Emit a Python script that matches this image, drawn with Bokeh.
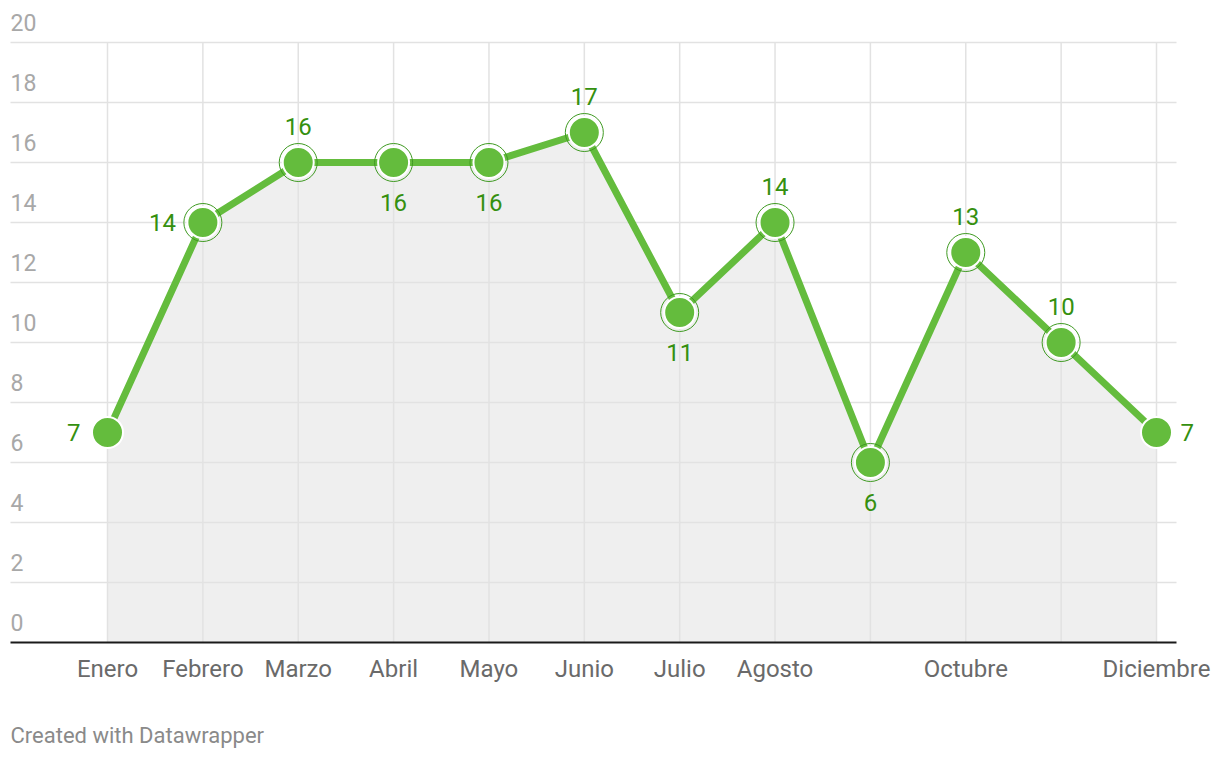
from bokeh.plotting import figure
from bokeh.models import Range1d, ColumnDataSource, Label
from bokeh.core.properties import value
from bokeh.embed import file_html
from bokeh.resources import INLINE

months = ["Enero", "Febrero", "Marzo", "Abril", "Mayo", "Junio", "Julio",
          "Agosto", "Septiembre", "Octubre", "Noviembre", "Diciembre"]
x_tick_labels = ["Enero", "Febrero", "Marzo", "Abril", "Mayo", "Junio", "Julio",
                 "Agosto", "", "Octubre", "", "Diciembre"]
values = [7, 14, 16, 16, 16, 17, 11, 14, 6, 13, 10, 7]
label_pos = ["left", "left", "above", "below", "below", "above", "below",
             "above", "below", "above", "above", "right"]
y_ticks = [0, 2, 4, 6, 8, 10, 12, 14, 16, 18, 20]

FONT = value("Roboto")
GREEN = "#64bc3d"
DARK_GREEN = "#35900f"

W, H = 1216, 754
xs = list(range(len(months)))
step = (1156 - 107) / 11.0
X0 = (0 - 107) / step
X1 = (W - 107) / step
GX0 = (10 - 107) / step
GX1 = (1176 - 107) / step
Y1 = (642 - 0) / 30.0
Y0 = (642 - H) / 30.0

p = figure(width=W, height=H, output_backend="svg", toolbar_location=None,
           x_range=Range1d(X0, X1), y_range=Range1d(Y0, Y1),
           x_axis_type=None, y_axis_type=None, min_border=0)
p.grid.visible = False
p.outline_line_color = None
p.background_fill_color = "white"
p.border_fill_color = "white"

# area
p.varea(x=xs, y1=[0] * len(xs), y2=values, fill_color="#efefef")

# grid lines
hy = [t for t in y_ticks if t != 0]
p.segment(x0=[GX0] * len(hy), x1=[GX1] * len(hy), y0=hy, y1=hy,
          line_color="#e2e2e2", line_width=1.5)
p.segment(x0=xs, x1=xs, y0=[0] * len(xs), y1=[max(y_ticks)] * len(xs),
          line_color="#e2e2e2", line_width=1.5)
p.segment(x0=[GX0], x1=[GX1], y0=[0], y1=[0], line_color="#1a1a1a", line_width=2)

# y tick labels
p.text(x=[GX0] * len(y_ticks), y=y_ticks, text=[str(t) for t in y_ticks],
       text_font=FONT, text_font_size="23px", text_color="#a8a8a8",
       text_align="left", text_baseline="middle", y_offset=-20)

# x tick labels
p.text(x=xs, y=[0] * len(xs), text=x_tick_labels, text_font=FONT,
       text_font_size="24px", text_color="#6a6a6a", text_align="center",
       text_baseline="middle", y_offset=26)

# line
p.line(x=xs, y=values, line_color=GREEN, line_width=7, line_join="round")

# rings (all but endpoints)
p.scatter(x=xs[1:-1], y=values[1:-1], size=38, fill_color=None,
          line_color="#3f9a22", line_width=1)
p.scatter(x=xs, y=values, size=31, fill_color=GREEN, line_color="white",
          line_width=2)

# value labels
for pos in ["above", "below", "left", "right"]:
    idx = [i for i, lp in enumerate(label_pos) if lp == pos]
    if not idx:
        continue
    src = ColumnDataSource(dict(x=[xs[i] for i in idx], y=[values[i] for i in idx],
                                t=[str(values[i]) for i in idx]))
    kw = dict(text_font=FONT, text_font_size="24px", text_color=DARK_GREEN)
    if pos == "above":
        p.text(x="x", y="y", text="t", source=src, text_align="center",
               text_baseline="middle", y_offset=-36, **kw)
    elif pos == "below":
        p.text(x="x", y="y", text="t", source=src, text_align="center",
               text_baseline="middle", y_offset=40, **kw)
    elif pos == "left":
        p.text(x="x", y="y", text="t", source=src, text_align="right",
               text_baseline="middle", x_offset=-27, **kw)
    else:
        p.text(x="x", y="y", text="t", source=src, text_align="left",
               text_baseline="middle", x_offset=24, **kw)

p.add_layout(Label(x=10, y=H - 735, x_units="screen", y_units="screen",
                   text="Created with Datawrapper", text_font="Roboto",
                   text_font_size="22px", text_color="#8a8a8a",
                   text_baseline="middle", text_align="left"))

open("out.html", "w").write(file_html(p, INLINE))
